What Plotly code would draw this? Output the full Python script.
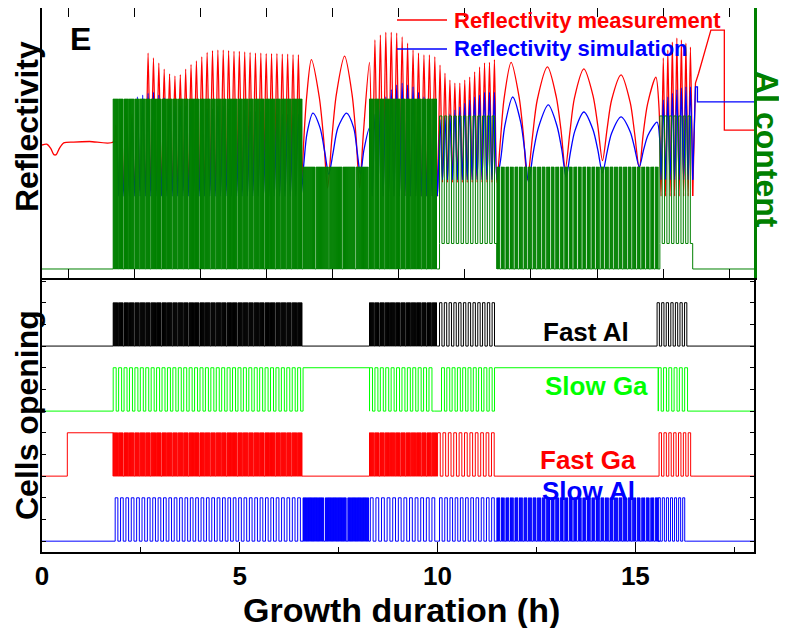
"""In-situ reflectivity during growth (panel E): measured vs simulated
reflectivity with the Al content profile, and the shutter (cell) sequence."""

import plotly.graph_objects as go
from plotly.subplots import make_subplots

T_END = 18.0
FONT = 'Arial, Liberation Sans, sans-serif'
GREEN_DARK = '#008000'
GREEN_LIME = '#00ff00'

# ---------------------------------------------------------------- reflectivity
# flat part before growth (h, a.u.)
RED_PRE_T = [0.0, 0.12, 0.22, 0.30, 0.36, 0.44, 0.55, 0.80, 1.20, 1.80]
RED_PRE_R = [0.487, 0.49, 0.475, 0.452, 0.452, 0.475, 0.495, 0.498, 0.50, 0.498]
BLUE_PRE_T = [1.80]
BLUE_PRE_R = [0.498]

# fast fringe blocks: start, end, peak heights (one per fringe), trough level
FR1_START, FR1_END = 1.80, 6.55
RED_FR1_PEAKS = [0.56, 0.58, 0.60, 0.60, 0.62, 0.64, 0.824, 0.806, 0.787, 0.765,
                 0.748, 0.74, 0.745, 0.765, 0.782, 0.795, 0.81, 0.826, 0.833, 0.835,
                 0.835, 0.833, 0.83, 0.83, 0.828, 0.826, 0.824, 0.824, 0.822, 0.822,
                 0.822, 0.82, 0.82, 0.818, 0.818]
RED_FR1_TROUGH = 0.32
BLUE_FR1_PEAKS = [0.50, 0.52, 0.55, 0.58, 0.663, 0.67, 0.677, 0.68, 0.67, 0.66,
                  0.64, 0.63, 0.63, 0.63, 0.625, 0.625, 0.62, 0.62, 0.62, 0.63,
                  0.63, 0.62, 0.62, 0.615, 0.615, 0.61, 0.61, 0.61, 0.605, 0.605,
                  0.60, 0.60, 0.60, 0.60, 0.60]
BLUE_FR1_TROUGH = 0.30

FR3_START, FR3_END = 8.21, 10.0
RED_FR3_PEAKS = [0.79, 0.872, 0.89, 0.90, 0.90, 0.897, 0.883, 0.86, 0.835, 0.824,
                 0.817, 0.817, 0.81]
RED_FR3_TROUGH = 0.30
BLUE_FR3_PEAKS = [0.55, 0.60, 0.63, 0.663, 0.69, 0.707, 0.714, 0.707, 0.70, 0.68,
                  0.663, 0.652, 0.645]
BLUE_FR3_TROUGH = 0.30

FR4_START, FR4_END = 10.0, 11.5
RED_FR4_PEAKS = [0.78, 0.75, 0.725, 0.714, 0.714, 0.725, 0.736, 0.755, 0.773, 0.788,
                 0.79, 0.80]
RED_FR4_TROUGH = 0.35
BLUE_FR4_PEAKS = [0.58, 0.59, 0.60, 0.615, 0.626, 0.64, 0.652, 0.663, 0.67, 0.68,
                  0.68, 0.68]
BLUE_FR4_TROUGH = 0.36

FR6_START, FR6_END = 15.65, 16.45
RED_FR6_PEAKS = [0.806, 0.835, 0.864, 0.879, 0.872, 0.86, 0.846]
RED_FR6_TROUGH = 0.30
BLUE_FR6_PEAKS = [0.652, 0.663, 0.677, 0.689, 0.696, 0.70, 0.70]
BLUE_FR6_TROUGH = 0.36

# slow fringes (thick layers), read point by point
RED_SLOW2_T = [6.62, 6.69, 6.81, 7.01, 7.12, 7.22, 7.33, 7.44, 7.65, 7.84, 7.94, 8.03, 8.12]
RED_SLOW2_R = [0.51, 0.662, 0.80, 0.662, 0.51, 0.33, 0.515, 0.671, 0.813, 0.671, 0.515, 0.33, 0.52]
BLUE_SLOW2_T = [6.62, 6.70, 6.85, 7.03, 7.15, 7.25, 7.36, 7.48, 7.70, 7.88, 7.97, 8.05, 8.14]
BLUE_SLOW2_R = [0.42, 0.53, 0.604, 0.55, 0.46, 0.38, 0.46, 0.55, 0.604, 0.55, 0.46, 0.38, 0.47]

RED_SLOW5_T = [11.59, 11.68, 11.86, 12.06, 12.17, 12.27, 12.40, 12.52, 12.78, 13.00,
               13.12, 13.23, 13.35, 13.46, 13.70, 13.93, 14.05, 14.17, 14.29, 14.40,
               14.64, 14.87, 14.98, 15.10, 15.20, 15.31, 15.52, 15.60, 15.65]
RED_SLOW5_R = [0.506, 0.655, 0.79, 0.664, 0.525, 0.36, 0.518, 0.652, 0.773, 0.664,
               0.543, 0.40, 0.54, 0.659, 0.766, 0.668, 0.559, 0.43, 0.55, 0.652,
               0.744, 0.643, 0.532, 0.40, 0.529, 0.638, 0.736, 0.62, 0.30]
BLUE_SLOW5_T = [11.60, 11.70, 11.90, 12.10, 12.20, 12.30, 12.42, 12.55, 12.80, 13.02,
                13.14, 13.25, 13.36, 13.47, 13.70, 13.93, 14.05, 14.17, 14.29, 14.40,
                14.64, 14.87, 14.98, 15.10, 15.21, 15.32, 15.55, 15.62, 15.65]
BLUE_SLOW5_R = [0.439, 0.557, 0.663, 0.572, 0.471, 0.352, 0.46, 0.551, 0.634, 0.557,
                0.471, 0.37, 0.461, 0.538, 0.608, 0.543, 0.47, 0.385, 0.464, 0.53,
                0.59, 0.536, 0.477, 0.407, 0.47, 0.523, 0.571, 0.50, 0.36]

# after growth
RED_POST_T = [16.45, 16.52, 16.60, 16.70, 16.80, 16.91, 17.25, 17.25, 18.0]
RED_POST_R = [0.30, 0.714, 0.75, 0.80, 0.85, 0.908, 0.908, 0.542, 0.542]
BLUE_POST_T = [16.45, 16.52, 16.57, 16.57, 18.0]
BLUE_POST_R = [0.36, 0.70, 0.70, 0.645, 0.645]

# ------------------------------------------------------------- Al content
# start, end (h), number of blocks, filled fraction of a block,
# sub-pulses per block, low / high Al content
AL_START = [1.80, 6.60, 8.28, 10.05, 11.50, 15.62]
AL_END = [6.60, 8.28, 10.00, 11.50, 15.62, 16.45]
AL_BLOCKS = [35, 5, 13, 12, 36, 7]
AL_FILL = [0.8, 0.9, 0.8, 0.5, 0.62, 0.5]
AL_SUB = [5, 12, 5, 1, 3, 1]
AL_LOW = [0.0, 0.0, 0.0, 0.15, 0.0, 0.15]
AL_HIGH = [1.0, 0.6, 1.0, 0.9, 0.6, 0.9]

# ------------------------------------------------------------- cell shutters
FAST_AL_START = [1.80, 8.28, 10.05, 15.55]
FAST_AL_END = [6.60, 10.00, 11.50, 16.36]
FAST_AL_BLOCKS = [35, 13, 12, 7]
FAST_AL_FILL = [0.8, 0.8, 0.5, 0.5]
FAST_AL_SUB = [5, 5, 1, 1]

SLOW_GA_START = [1.80, 6.60, 8.28, 10.10, 11.44, 15.58]
SLOW_GA_END = [6.60, 8.28, 9.92, 11.44, 15.58, 16.38]
SLOW_GA_BLOCKS = [35, 1, 12, 10, 1, 6]
SLOW_GA_FILL = [0.55, 1.0, 0.55, 0.55, 1.0, 0.55]
SLOW_GA_SUB = [1, 1, 1, 1, 1, 1]

FAST_GA_START = [0.64, 1.80, 8.28, 10.00, 15.60]
FAST_GA_END = [1.80, 6.60, 10.00, 11.50, 16.46]
FAST_GA_BLOCKS = [1, 35, 13, 11, 7]
FAST_GA_FILL = [1.0, 0.8, 0.8, 0.5, 0.5]
FAST_GA_SUB = [1, 5, 5, 1, 1]

SLOW_AL_START = [1.85, 6.60, 8.30, 10.05, 11.50, 15.58]
SLOW_AL_END = [6.60, 8.30, 10.00, 11.50, 15.62, 16.30]
SLOW_AL_BLOCKS = [35, 3, 12, 11, 36, 7]
SLOW_AL_FILL = [0.5, 0.92, 0.5, 0.5, 0.62, 0.5]
SLOW_AL_SUB = [1, 25, 1, 1, 3, 1]

CELL_NAMES = ['Fast Al', 'Slow Ga', 'Fast Ga', 'Slow Al']
CELL_OFFSETS = [4.5, 3.0, 1.5, 0.0]
CELL_COLORS = ['black', GREEN_LIME, '#ff0000', '#0000ff']

X_TICKS = [0, 5, 10, 15]
TOP_TICKS = [0.66, 2.33, 4.0, 5.67, 7.35, 9.02, 10.69, 12.36, 14.04, 15.71, 17.38]


def fringes(start, end, peaks, trough):
    """Peak / trough sequence of a block of evenly spaced fringes."""
    period = (end - start) / len(peaks)
    t, r = [], []
    for i, pk in enumerate(peaks):
        t += [start + (i + 0.5) * period, start + (i + 1) * period]
        r += [pk, trough]
    return t, r


def pulse_train(starts, ends, blocks, fills, subs, lows, highs, base):
    """Step sequence (for line_shape='hv') of shutter / composition blocks."""
    xs, ys = [0.0], [base]
    for s, e, n, f, k, lo, hi in zip(starts, ends, blocks, fills, subs, lows, highs):
        xs.append(s)
        ys.append(lo)
        period = (e - s) / n
        w = f * period / (2 * k - 1)
        for i in range(n):
            t0 = s + i * period
            for j in range(k):
                xs += [t0 + 2 * j * w, t0 + (2 * j + 1) * w]
                ys += [hi, lo]
        xs.append(e)
        ys.append(base)
    xs.append(T_END)
    ys.append(base)
    return xs, ys


def reflectivity(pre, fr1, slow2, fr3, fr4, slow5, fr6):
    t, r = list(pre[0]), list(pre[1])
    for piece in (fr1, slow2, fr3, fr4, slow5, fr6):
        t += piece[0]
        r += piece[1]
    return t, r


red_t, red_r = reflectivity(
    (RED_PRE_T, RED_PRE_R),
    fringes(FR1_START, FR1_END, RED_FR1_PEAKS, RED_FR1_TROUGH),
    (RED_SLOW2_T, RED_SLOW2_R),
    fringes(FR3_START, FR3_END, RED_FR3_PEAKS, RED_FR3_TROUGH),
    fringes(FR4_START, FR4_END, RED_FR4_PEAKS, RED_FR4_TROUGH),
    (RED_SLOW5_T, RED_SLOW5_R),
    fringes(FR6_START, FR6_END, RED_FR6_PEAKS, RED_FR6_TROUGH),
)
blue_t, blue_r = reflectivity(
    (BLUE_PRE_T, BLUE_PRE_R),
    fringes(FR1_START, FR1_END, BLUE_FR1_PEAKS, BLUE_FR1_TROUGH),
    (BLUE_SLOW2_T, BLUE_SLOW2_R),
    fringes(FR3_START, FR3_END, BLUE_FR3_PEAKS, BLUE_FR3_TROUGH),
    fringes(FR4_START, FR4_END, BLUE_FR4_PEAKS, BLUE_FR4_TROUGH),
    (BLUE_SLOW5_T, BLUE_SLOW5_R),
    fringes(FR6_START, FR6_END, BLUE_FR6_PEAKS, BLUE_FR6_TROUGH),
)

fig = make_subplots(rows=2, cols=1, shared_xaxes=True, vertical_spacing=0,
                    specs=[[{'secondary_y': True}], [{}]])

# reflectivity curves (drawn first so the Al profile covers them)
fig.add_trace(go.Scatter(x=red_t, y=red_r, mode='lines', name='Reflectivity measurement',
                         line=dict(color='#ff0000', width=1.3, shape='spline', smoothing=0.8),
                         showlegend=False), row=1, col=1)
fig.add_trace(go.Scatter(x=RED_POST_T, y=RED_POST_R, mode='lines',
                         line=dict(color='#ff0000', width=1.3), showlegend=False),
              row=1, col=1)
fig.add_trace(go.Scatter(x=blue_t, y=blue_r, mode='lines', name='Reflectivity simulation',
                         line=dict(color='#0000ff', width=1.3, shape='spline', smoothing=0.8),
                         showlegend=False), row=1, col=1)
fig.add_trace(go.Scatter(x=BLUE_POST_T, y=BLUE_POST_R, mode='lines',
                         line=dict(color='#0000ff', width=1.3), showlegend=False),
              row=1, col=1)

al_x, al_y = pulse_train(AL_START, AL_END, AL_BLOCKS, AL_FILL, AL_SUB, AL_LOW, AL_HIGH, 0.0)
fig.add_trace(go.Scatter(x=al_x, y=al_y, mode='lines', name='Al content',
                         line=dict(color=GREEN_DARK, width=1.0, shape='hv'),
                         showlegend=False), row=1, col=1, secondary_y=True)

cells = [
    (FAST_AL_START, FAST_AL_END, FAST_AL_BLOCKS, FAST_AL_FILL, FAST_AL_SUB),
    (SLOW_GA_START, SLOW_GA_END, SLOW_GA_BLOCKS, SLOW_GA_FILL, SLOW_GA_SUB),
    (FAST_GA_START, FAST_GA_END, FAST_GA_BLOCKS, FAST_GA_FILL, FAST_GA_SUB),
    (SLOW_AL_START, SLOW_AL_END, SLOW_AL_BLOCKS, SLOW_AL_FILL, SLOW_AL_SUB),
]
for (st, en, nb, fl, sb), name, off, color in zip(cells, CELL_NAMES, CELL_OFFSETS, CELL_COLORS):
    lows = [off] * len(st)
    highs = [off + 1.0] * len(st)
    cx, cy = pulse_train(st, en, nb, fl, sb, lows, highs, off)
    fig.add_trace(go.Scatter(x=cx, y=cy, mode='lines', name=name,
                             line=dict(color=color, width=1.0, shape='hv'),
                             showlegend=False), row=2, col=1)

axis_line = dict(showline=True, linecolor='black', linewidth=1.5,
                 showgrid=False, zeroline=False)

# the page body adds an 8 px offset, so the figure is 8 px smaller than the window
SPLIT = 274 / 544

fig.update_layout(
    width=779, height=620,
    margin=dict(l=34, r=33, t=0, b=76, autoexpand=False),
    paper_bgcolor='white', plot_bgcolor='white',
    font=dict(family=FONT, color='black'),
    showlegend=False,
    xaxis=dict(domain=[0, 1], range=[0, T_END], tickvals=TOP_TICKS, ticks='inside',
               ticklen=9, tickcolor='black', mirror='ticks', showticklabels=False,
               **axis_line),
    xaxis2=dict(domain=[0, 1], range=[0, T_END], tickvals=X_TICKS,
                ticktext=[f'<b>{v}</b>' for v in X_TICKS],
                ticks='inside', ticklen=10, tickcolor='black',
                tickfont=dict(size=26, family=FONT, color='black'),
                minor=dict(dtick=2.5, ticks='inside', ticklen=5, tickcolor='black'),
                **axis_line),
    yaxis=dict(domain=[SPLIT, 1], range=[0, 0.989], ticks='', showticklabels=False,
               **axis_line),
    yaxis2=dict(range=[-0.053, 1.535], ticks='', showticklabels=False,
                showline=True, linecolor=GREEN_DARK, linewidth=3,
                showgrid=False, zeroline=False),
    yaxis3=dict(domain=[0, SPLIT], range=[-0.25, 6.07], tick0=0, dtick=0.5,
                ticks='inside', ticklen=4, tickcolor='black', mirror='ticks',
                showticklabels=False, **axis_line),
)


def paper_x(px):
    """Window pixel -> paper x (plot area spans 42..754 in the window)."""
    return (px - 42) / 712


def paper_y(py):
    """Window pixel -> paper y (plot area spans 8..552 in the window)."""
    return (552 - py) / 544


annotations = [
    dict(text='<b>E</b>', x=paper_x(80), y=paper_y(39), size=32, color='black', angle=0),
    dict(text='<b>Reflectivity</b>', x=paper_x(27), y=paper_y(127), size=32, color='black', angle=-90),
    dict(text='<b>Cells opening</b>', x=paper_x(27), y=paper_y(415), size=32, color='black', angle=-90),
    dict(text='<b>Al content</b>', x=paper_x(767), y=paper_y(149), size=32, color=GREEN_DARK, angle=90),
    dict(text='<b>Growth duration (h)</b>', x=paper_x(401), y=paper_y(610), size=34, color='black', angle=0),
]
for name, (cx, cy), color in zip(CELL_NAMES, [(586, 332), (596, 386), (588, 460), (588, 491)],
                                 CELL_COLORS):
    annotations.append(dict(text=f'<b>{name}</b>', x=paper_x(cx), y=paper_y(cy), size=26,
                            color=color, angle=0))

for a in annotations:
    fig.add_annotation(text=a['text'], x=a['x'], y=a['y'], xref='paper', yref='paper',
                       xanchor='center', yanchor='middle', showarrow=False,
                       textangle=a['angle'],
                       font=dict(family=FONT, size=a['size'], color=a['color']))

# legend drawn as line sample + label
for label, color, py in [('Reflectivity measurement', '#ff0000', 20),
                         ('Reflectivity simulation', '#0000ff', 49)]:
    fig.add_shape(type='line', xref='paper', yref='paper',
                  x0=paper_x(397), x1=paper_x(447), y0=paper_y(py), y1=paper_y(py),
                  line=dict(color=color, width=1.3))
    fig.add_annotation(text=f'<b>{label}</b>', x=paper_x(452), y=paper_y(py),
                       xref='paper', yref='paper', xanchor='left', yanchor='middle',
                       showarrow=False,
                       font=dict(family=FONT, size=22, color=color))

fig.write_html('out.html')
